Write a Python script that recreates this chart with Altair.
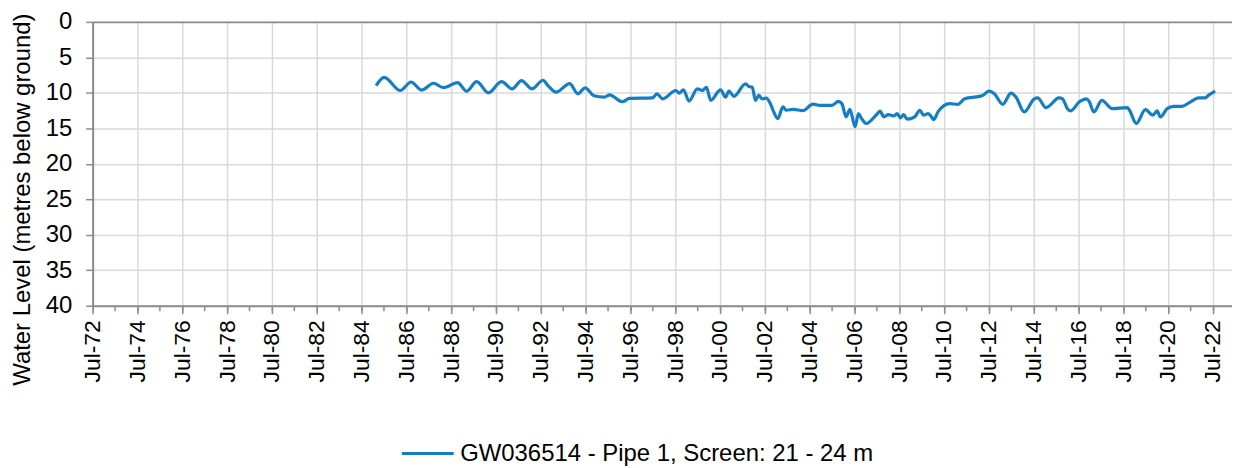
import altair as alt
import pandas as pd

SERIES = "GW036514 - Pipe 1, Screen: 21 - 24 m"

# decimal years
years = [1985.15, 1985.51, 1986.23, 1986.71, 1987.18, 1987.71, 1988.16, 1988.79, 1989.19, 1989.64,
         1990.16, 1990.75, 1991.22, 1991.64, 1992.11, 1992.60, 1992.82, 1993.18, 1993.79, 1994.16,
         1994.48, 1994.88, 1995.34, 1995.57, 1996.14, 1996.46, 1997.49, 1997.68, 1997.94, 1998.53,
         1998.68, 1998.87, 1999.12, 1999.49, 1999.71, 1999.90, 2000.08, 2000.53, 2000.75, 2000.90,
         2001.12, 2001.64, 2001.79, 2001.94, 2002.08, 2002.23, 2002.38, 2002.57, 2002.75, 2002.90,
         2003.08, 2003.31, 2003.46, 2003.79, 2004.20, 2004.65, 2004.97, 2005.49, 2005.79, 2005.94,
         2006.13, 2006.30, 2006.53, 2006.68, 2006.82, 2007.02, 2007.49, 2007.64, 2007.82, 2008.01,
         2008.26, 2008.41, 2008.56, 2008.70, 2008.86, 2009.19, 2009.42, 2009.59, 2009.79, 2009.94,
         2010.04, 2010.23, 2010.75, 2011.12, 2011.42, 2012.08, 2012.23, 2012.50, 2012.75, 2013.12,
         2013.49, 2013.71, 2014.08, 2014.53, 2014.68, 2015.05, 2015.64, 2015.79, 2016.01, 2016.16,
         2016.53, 2016.86, 2016.97, 2017.19, 2017.54, 2018.01, 2018.68, 2018.78, 2019.08, 2019.49,
         2019.82, 2020.01, 2020.16, 2020.46, 2020.75, 2021.12, 2021.49, 2021.86, 2022.16, 2022.30,
         2022.60]

# water level, metres below ground
levels = [8.97, 7.81, 9.67, 8.47, 9.62, 8.65, 9.27, 8.55, 9.76, 8.41,
          10.00, 8.41, 9.44, 8.27, 9.44, 8.23, 8.97, 9.90, 8.69, 10.14,
          9.30, 10.42, 10.60, 10.28, 11.26, 10.78, 10.70, 10.14, 10.84, 9.67,
          10.04, 9.58, 11.16, 9.44, 9.67, 9.21, 11.06, 9.58, 10.60, 9.76,
          10.50, 8.74, 9.11, 9.21, 11.06, 10.36, 10.84, 10.74, 11.53, 12.69,
          13.63, 11.99, 12.45, 12.32, 12.51, 11.58, 11.76, 11.76, 11.20, 11.53,
          13.39, 12.32, 14.78, 12.93, 13.63, 14.32, 13.07, 12.59, 13.39, 13.07,
          13.25, 12.93, 13.53, 13.07, 13.71, 13.39, 12.45, 13.15, 12.93, 13.39,
          13.77, 12.69, 11.53, 11.62, 10.84, 10.50, 10.36, 9.76, 10.14, 11.62,
          10.04, 10.60, 12.69, 10.84, 10.70, 12.09, 10.70, 10.84, 12.23, 12.55,
          11.30, 10.84, 11.16, 12.69, 11.06, 12.23, 12.09, 12.45, 14.32, 12.37,
          13.15, 12.55, 13.39, 12.23, 11.90, 11.90, 11.30, 10.70, 10.70, 10.36,
          9.76]

label_years = list(range(1972, 2023, 2))
minor_years = list(range(1972, 2024))
y_ticks = list(range(0, 41, 5))


def to_date(y):
    base = pd.Timestamp(int(y), 1, 1)
    return (base + pd.Timedelta(days=(y - int(y)) * 365.25)).strftime("%Y-%m-%dT00:00:00Z")


df = pd.DataFrame({
    "date": [to_date(y) for y in years],
    "level": levels,
    "series": [SERIES] * len(levels),
})

FONT = "Liberation Sans"
FS_Y = 24
FS_X = 23
FS_L = 24
AXIS_GRAY = "#8c8c8c"
GRID = "#d9d9d9"
BLUE = "#137ec3"

x_scale = alt.Scale(type="utc", nice=False,
                    domain=[alt.DateTime(year=1972, month=7, date=1, utc=True),
                            alt.DateTime(year=2023, month=5, date=10, utc=True)])

y_enc = alt.Y("level:Q",
              scale=alt.Scale(domain=[0, 40], reverse=True, nice=False, zero=False),
              axis=alt.Axis(values=y_ticks, title="Water Level (metres below ground)",
                            grid=True, gridColor=GRID, gridWidth=1.5,
                            domainColor=AXIS_GRAY, domainWidth=2,
                            tickColor=AXIS_GRAY, tickWidth=1.5, tickSize=7,
                            labelPadding=14, labelFontSize=FS_Y, labelFont=FONT, labelColor="black",
                            titleFontSize=FS_Y, titleFont=FONT, titleFontWeight="normal",
                            titleColor="black", titleX=-63, titleY=178, titleBaseline="alphabetic",
                            titleAlign="center"))

main = alt.Chart(df).mark_line(interpolate="monotone", strokeWidth=3.2).encode(
    x=alt.X("date:T", scale=x_scale, title=None,
            axis=alt.Axis(values=[alt.DateTime(year=y, month=7, date=1, utc=True) for y in label_years],
                          labelExpr="utcFormat(datum.value, '%b-%y')", labelAngle=270,
                          grid=True, gridColor=GRID, gridWidth=1.5,
                          domainColor=AXIS_GRAY, domainWidth=2,
                          tickColor=AXIS_GRAY, tickWidth=1.5, tickSize=8,
                          labelPadding=6, labelFontSize=FS_X, labelFont=FONT, labelColor="black",
                          labelOverlap=False, labelFlush=False)),
    y=y_enc,
    color=alt.Color("series:N", scale=alt.Scale(range=[BLUE]),
                    legend=alt.Legend(title=None, orient="none", legendX=309, legendY=406,
                                      symbolType="stroke", symbolSize=2704, symbolStrokeWidth=3,
                                      labelFontSize=FS_L, labelFont=FONT, labelColor="black",
                                      labelOffset=5, padding=0, labelLimit=600)),
)

minor = alt.Chart(df).mark_line(strokeOpacity=0).encode(
    x=alt.X("date:T", scale=x_scale, title=None,
            axis=alt.Axis(orient="bottom",
                          values=[alt.DateTime(year=y, month=7, date=1, utc=True) for y in minor_years],
                          labels=False, grid=False, domain=False,
                          tickColor=AXIS_GRAY, tickWidth=1.5, tickSize=5)),
    y=y_enc,
)

top = alt.Chart(df).mark_line(strokeOpacity=0).encode(
    x=alt.X("date:T", scale=x_scale, title=None,
            axis=alt.Axis(orient="top", labels=False, grid=False, ticks=False,
                          domainColor=AXIS_GRAY, domainWidth=2)),
    y=y_enc,
)

chart = alt.layer(main, minor, top).resolve_axis(x="independent").properties(
    width=1144, height=285,
    autosize=alt.AutoSizeParams(type="none"),
    padding={"left": 85, "top": 13, "right": 0, "bottom": 160},
).configure_view(stroke=None).configure(background="white")

chart.save("out.html", embed_options={"renderer": "svg", "actions": False})
